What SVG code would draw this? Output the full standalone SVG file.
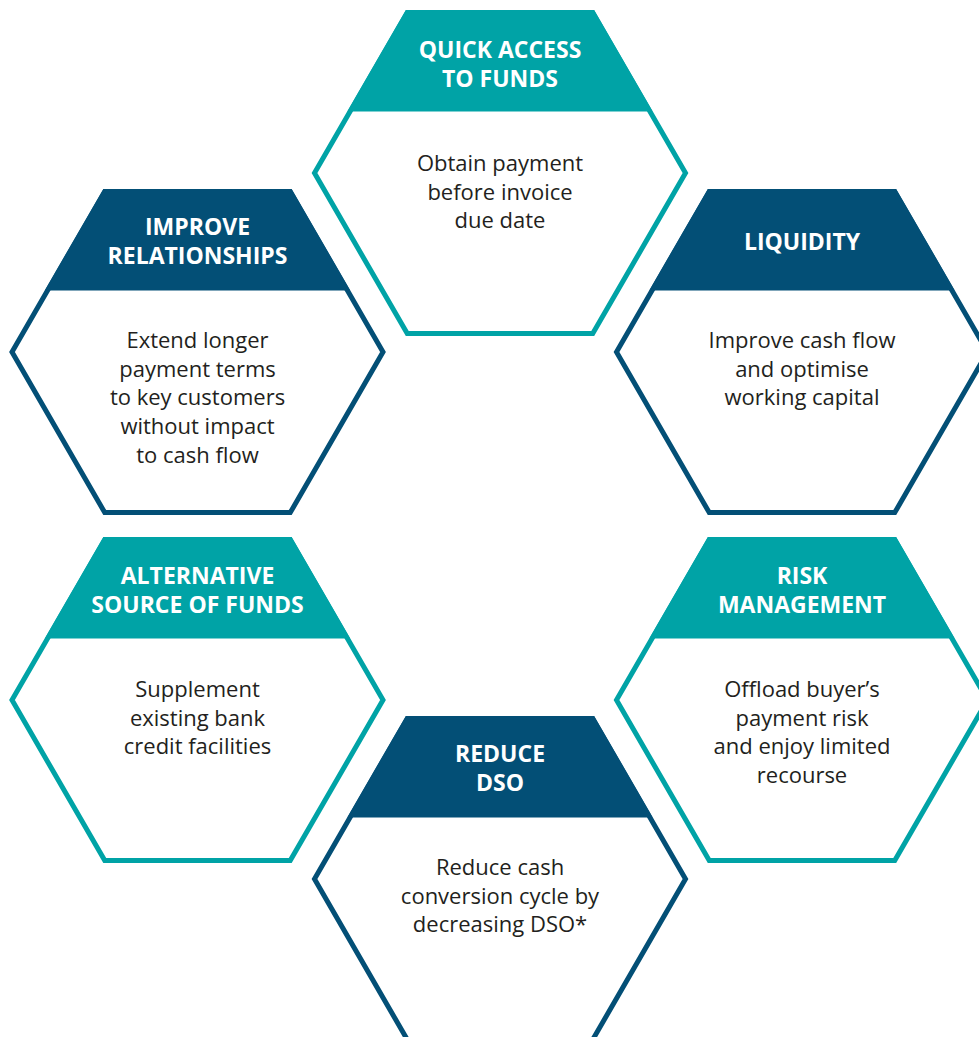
<svg xmlns="http://www.w3.org/2000/svg" width="979" height="1037" viewBox="0 0 979 1037">
<defs>
<style>
.hx{fill:#ffffff;stroke-width:5;stroke-linejoin:miter}
.teal .hx{stroke:#00a3a6}
.teal .band{fill:#00a3a6}
.navy .hx{stroke:#034f76}
.navy .band{fill:#034f76}
.ttl{font-family:"Open Sans","Noto Sans",sans-serif;font-weight:700;font-size:23px;fill:#ffffff;text-anchor:middle}
.body{font-family:"Open Sans","Noto Sans",sans-serif;font-size:22px;fill:#231f20;text-anchor:middle}
</style>
</defs>
<rect width="979" height="1037" fill="#ffffff"/>
<g id="connectors"></g>

<g id="quick-access" class="teal" transform="translate(500,173)">
<polygon class="hx" points="-185.5,0 -92.75,-160.6 92.75,-160.6 185.5,0 92.75,160.6 -92.75,160.6"/>
<polygon class="band" points="-94,-163 94,-163 152.6,-61.5 -152.6,-61.5"/>
<text class="ttl"><tspan x="0" y="-115">QUICK ACCESS</tspan><tspan x="0" y="-86">TO FUNDS</tspan></text>
<text class="body"><tspan x="0" y="-2">Obtain payment</tspan><tspan x="0" y="26.7">before invoice</tspan><tspan x="0" y="55.4">due date</tspan></text>
</g>

<g id="improve-relationships" class="navy" transform="translate(197.5,352)">
<polygon class="hx" points="-185.5,0 -92.75,-160.6 92.75,-160.6 185.5,0 92.75,160.6 -92.75,160.6"/>
<polygon class="band" points="-94,-163 94,-163 152.6,-61.5 -152.6,-61.5"/>
<text class="ttl"><tspan x="0" y="-117">IMPROVE</tspan><tspan x="0" y="-88">RELATIONSHIPS</tspan></text>
<text class="body"><tspan x="0" y="-4">Extend longer</tspan><tspan x="0" y="24.7">payment terms</tspan><tspan x="0" y="53.4">to key customers</tspan><tspan x="0" y="82.1">without impact</tspan><tspan x="0" y="110.8">to cash flow</tspan></text>
</g>

<g id="liquidity" class="navy" transform="translate(802,352)">
<polygon class="hx" points="-185.5,0 -92.75,-160.6 92.75,-160.6 185.5,0 92.75,160.6 -92.75,160.6"/>
<polygon class="band" points="-94,-163 94,-163 152.6,-61.5 -152.6,-61.5"/>
<text class="ttl" x="0" y="-102">LIQUIDITY</text>
<text class="body"><tspan x="0" y="-4">Improve cash flow</tspan><tspan x="0" y="24.7">and optimise</tspan><tspan x="0" y="53.4">working capital</tspan></text>
</g>

<g id="alternative-source" class="teal" transform="translate(197.5,700)">
<polygon class="hx" points="-185.5,0 -92.75,-160.6 92.75,-160.6 185.5,0 92.75,160.6 -92.75,160.6"/>
<polygon class="band" points="-94,-163 94,-163 152.6,-61.5 -152.6,-61.5"/>
<text class="ttl"><tspan x="0" y="-116.5">ALTERNATIVE</tspan><tspan x="0" y="-87.5">SOURCE OF FUNDS</tspan></text>
<text class="body"><tspan x="0" y="-3">Supplement</tspan><tspan x="0" y="25.5">existing bank</tspan><tspan x="0" y="54">credit facilities</tspan></text>
</g>

<g id="risk-management" class="teal" transform="translate(802,700)">
<polygon class="hx" points="-185.5,0 -92.75,-160.6 92.75,-160.6 185.5,0 92.75,160.6 -92.75,160.6"/>
<polygon class="band" points="-94,-163 94,-163 152.6,-61.5 -152.6,-61.5"/>
<text class="ttl"><tspan x="0" y="-116.5">RISK</tspan><tspan x="0" y="-87.5">MANAGEMENT</tspan></text>
<text class="body"><tspan x="0" y="-3">Offload buyer’s</tspan><tspan x="0" y="25.5">payment risk</tspan><tspan x="0" y="54">and enjoy limited</tspan><tspan x="0" y="82.5">recourse</tspan></text>
</g>

<g id="reduce-dso" class="navy" transform="translate(500,879)">
<polygon class="hx" points="-185.5,0 -92.75,-160.6 92.75,-160.6 185.5,0 92.75,160.6 -92.75,160.6"/>
<polygon class="band" points="-94,-163 94,-163 152.6,-61.5 -152.6,-61.5"/>
<text class="ttl"><tspan x="0" y="-117.5">REDUCE</tspan><tspan x="0" y="-88.5">DSO</tspan></text>
<text class="body"><tspan x="0" y="-4">Reduce cash</tspan><tspan x="0" y="24.5">conversion cycle by</tspan><tspan x="0" y="53">decreasing DSO*</tspan></text>
</g>
</svg>
